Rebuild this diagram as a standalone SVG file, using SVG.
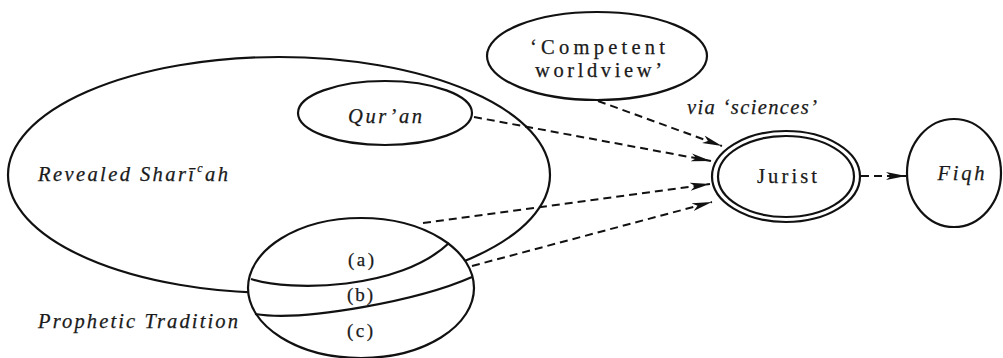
<svg xmlns="http://www.w3.org/2000/svg" width="1003" height="358" viewBox="0 0 1003 358">
<defs>
<marker id="ah" markerUnits="userSpaceOnUse" markerWidth="22" markerHeight="10" refX="20" refY="4.5" orient="auto">
<path d="M0,0.5 L20,4.5 L0,8.5 L5,4.5 z" fill="#111"/>
</marker>
<style>
.ln{fill:none;stroke:#111;stroke-width:2.2}
.wf{fill:#fff;stroke:#111;stroke-width:2.2}
.dash{fill:none;stroke:#111;stroke-width:2;stroke-dasharray:8 5;marker-end:url(#ah)}
text{font-family:"Liberation Serif","DejaVu Serif",serif;fill:#1a1a1a;stroke:#1a1a1a;stroke-width:0.25}
.it{font-style:italic}
.lbl{font-size:20.5px}
.sm{font-size:19px}
</style>
</defs>
<rect width="1003" height="358" fill="#fff"/>
<g id="revealed-shariah">
<ellipse class="ln" cx="279" cy="175" rx="271" ry="118"/>
<text class="it lbl" x="38" y="181" textLength="190" lengthAdjust="spacing">Revealed Sharī<tspan font-size="12" dx="1" dy="-9">c</tspan><tspan dy="9">ah</tspan></text>
</g>
<g id="quran">
<ellipse class="ln" cx="385" cy="113" rx="87" ry="32"/>
<text class="it lbl" x="385" y="123" text-anchor="middle" textLength="74" lengthAdjust="spacing">Qur’an</text>
</g>
<g id="prophetic-tradition">
<ellipse class="wf" cx="361" cy="288" rx="113" ry="70"/>
<path class="ln" d="M251,279 C290,292 400,290 449,243"/>
<path class="ln" d="M255,314 C305,322 420,300 472,277"/>
<text class="sm" x="361" y="266" text-anchor="middle" textLength="26" lengthAdjust="spacing">(a)</text>
<text class="sm" x="360" y="301" text-anchor="middle" textLength="26" lengthAdjust="spacing">(b)</text>
<text class="sm" x="360" y="337" text-anchor="middle" textLength="26" lengthAdjust="spacing">(c)</text>
<text class="it lbl" x="38" y="328" textLength="200" lengthAdjust="spacing">Prophetic Tradition</text>
</g>
<g id="competent-worldview">
<ellipse class="ln" cx="597" cy="56" rx="110" ry="44"/>
<text class="lbl" x="530" y="54" textLength="135" lengthAdjust="spacing">‘Competent</text>
<text class="lbl" x="535" y="77" textLength="127" lengthAdjust="spacing">worldview’</text>
</g>
<g id="jurist">
<ellipse class="ln" cx="786" cy="176.5" rx="74" ry="45.5"/>
<ellipse class="ln" cx="786" cy="176.5" rx="68" ry="40.5"/>
<text class="lbl" x="787" y="183" text-anchor="middle" textLength="60" lengthAdjust="spacing">Jurist</text>
</g>
<g id="fiqh">
<ellipse class="ln" cx="954" cy="173" rx="47" ry="54"/>
<text class="it lbl" x="961" y="180" text-anchor="middle" textLength="47" lengthAdjust="spacing">Fiqh</text>
</g>
<g id="connectors">
<path class="dash" d="M598,101 L722,146"/>
<path class="dash" d="M474,117 L711,161"/>
<path class="dash" d="M423,223 L710,184"/>
<path class="dash" d="M472,266 L712,202"/>
<path class="dash" d="M861,176 L906,176"/>
<text class="it lbl" x="687" y="114" textLength="130" lengthAdjust="spacing">via ‘sciences’</text>
</g>
</svg>
